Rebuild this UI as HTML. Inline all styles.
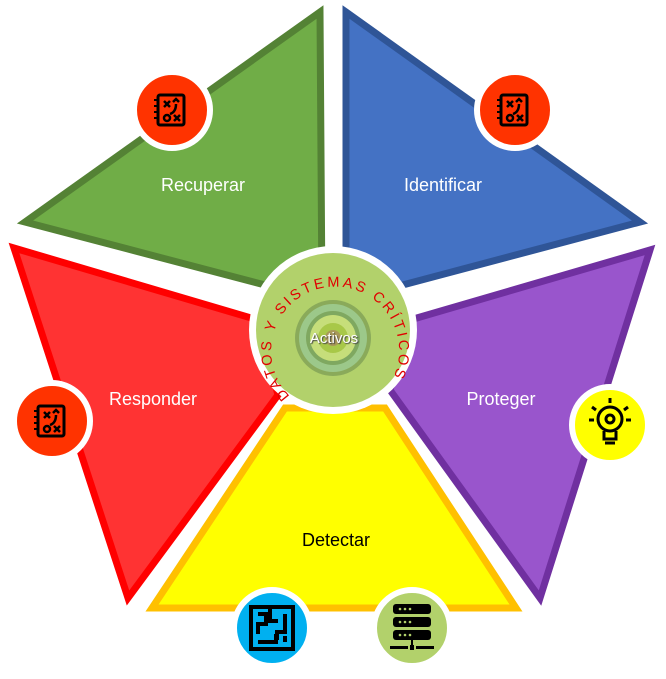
<!DOCTYPE html>
<html><head><meta charset="utf-8"><style>body{margin:0;background:#fff}svg{display:block}text{font-family:"Liberation Sans",sans-serif}</style></head><body>
<svg width="666" height="679" viewBox="0 0 666 679" xmlns="http://www.w3.org/2000/svg">
<defs>
<g id="plan"><rect x="-14" y="-15" width="26" height="30" rx="2" fill="none" stroke="#000" stroke-width="3"/><path d="M-18 -10h5M-18 -4h5M-18 2h5M-18 8h5" stroke="#000" stroke-width="2"/><path d="M-8 -9l6 6M-2 -9l-6 6M2 5l6 6M8 5l-6 6" stroke="#000" stroke-width="2.5"/><circle cx="-5" cy="8" r="3" fill="none" stroke="#000" stroke-width="2.5"/><path d="M-2 4q6-2 6-10M1-8l3-3 3 3" fill="none" stroke="#000" stroke-width="2.5"/></g>
</defs>
<g stroke-width="7" stroke-linejoin="miter" stroke-miterlimit="3">
<polygon points="320,12 322,300 25,222" fill="#70AD47" stroke="#548235"/>
<polygon points="346,12 640,222 346,300" fill="#4472C4" stroke="#2F5597"/>
<polygon points="650,250 540,598 390,390 410,320" fill="#9955CC" stroke="#7030A0"/>
<polygon points="14,248 128,598 278,395 258,320" fill="#FF3333" stroke="#FF0000"/>
<polygon points="152,608 516,608 385,408 285,408" fill="#FFFF00" stroke="#FFC000"/>
</g>
<circle cx="333" cy="330" r="84" fill="#fff"/>
<circle cx="333" cy="330" r="77" fill="#B2D16B"/>
<circle cx="333" cy="338" r="38" fill="#8AAA5A"/>
<circle cx="333" cy="338" r="34" fill="#9CC88A"/>
<circle cx="333" cy="338" r="27" fill="#7FA860"/>
<circle cx="333" cy="338" r="23" fill="#C6DE7A"/>
<circle cx="333" cy="338" r="15" fill="#A8C848"/>
<circle cx="333" cy="338" r="8" fill="#A89858"/>
<path id="arc" d="M290,396 A64,64 0 1 1 384,392" fill="none"/>
<text font-size="14.5" fill="#E00000" letter-spacing="2.7"><textPath href="#arc">DATOS Y SISTEMAS CRÍTICOS</textPath></text>
<text x="334" y="343" font-size="15" fill="#fff" text-anchor="middle" style="text-shadow:1px 1px 1px #444">Activos</text>
<g font-size="18" fill="#fff" text-anchor="middle">
<text x="203" y="191">Recuperar</text><text x="443" y="191">Identificar</text>
<text x="153" y="405">Responder</text><text x="501" y="405">Proteger</text>
<text x="336" y="546" fill="#000">Detectar</text></g>
<g stroke="#fff" stroke-width="6">
<circle cx="172" cy="110" r="38" fill="#FF3300"/><circle cx="515" cy="110" r="38" fill="#FF3300"/>
<circle cx="52" cy="421" r="38" fill="#FF3300"/><circle cx="610" cy="425" r="38" fill="#FFFF00"/>
<circle cx="272" cy="628" r="38" fill="#00B0F0"/><circle cx="412" cy="628" r="38" fill="#B2D16B"/></g>
<use href="#plan" x="172" y="110"/><use href="#plan" x="515" y="110"/><use href="#plan" x="52" y="421"/>
<g transform="translate(610,422)" fill="none" stroke="#000" stroke-width="3"><circle cx="0" cy="-3" r="12"/><path d="M-6 9v8h12v-8M-5 21h10"/><circle cx="0" cy="-3" r="4"/><path d="M0-24v5M-18-15l4 3M18-15l-4 3M-21 -2h5M21 -2h-5"/></g>
<g transform="translate(272,628)" fill="none" stroke="#000" stroke-width="4"><rect x="-21" y="-21" width="42" height="42"/><path d="M-14-14h8v10h-8v10M-2-21v14h8M13-14v18h-8v8M-14 14h18v-8M13 14v-6"/></g>
<g transform="translate(412,628)"><rect x="-19" y="-24" width="38" height="10" rx="3"/><rect x="-19" y="-11" width="38" height="10" rx="3"/><rect x="-19" y="2" width="38" height="10" rx="3"/><rect x="-1" y="12" width="2" height="8"/><rect x="-22" y="18" width="18" height="3"/><rect x="4" y="18" width="18" height="3"/><rect x="-2" y="17" width="4" height="5"/>
<g fill="#B2D16B"><circle cx="-12" cy="-19" r="1.3"/><circle cx="-7" cy="-19" r="1.3"/><circle cx="-2" cy="-19" r="1.3"/><circle cx="-12" cy="-6" r="1.3"/><circle cx="-7" cy="-6" r="1.3"/><circle cx="-2" cy="-6" r="1.3"/><circle cx="-12" cy="7" r="1.3"/><circle cx="-7" cy="7" r="1.3"/><circle cx="-2" cy="7" r="1.3"/></g></g>
</svg>
</body></html>
